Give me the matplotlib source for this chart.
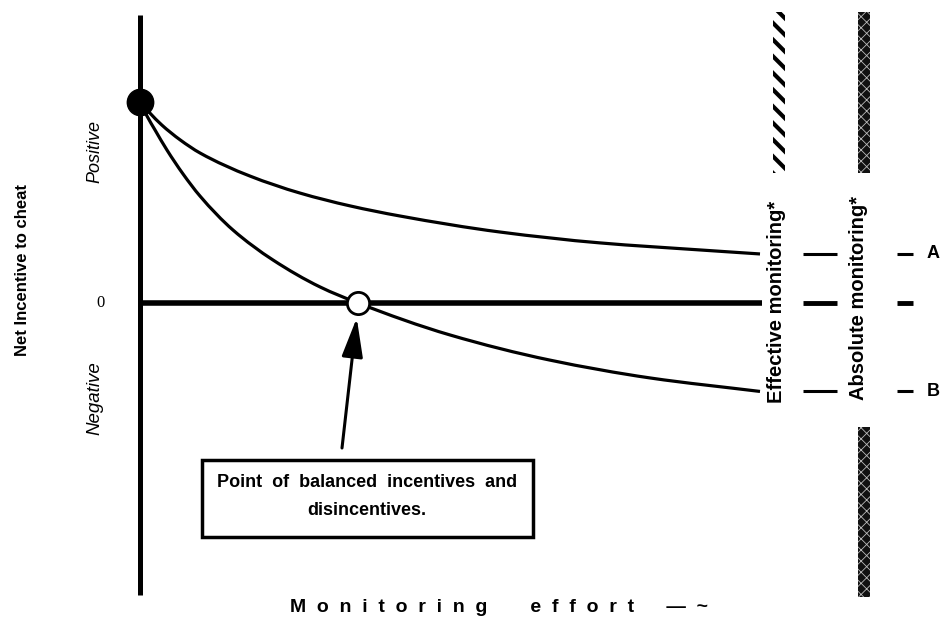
import matplotlib
matplotlib.use("Agg")
import numpy as np
import matplotlib.pyplot as plt
from matplotlib.patches import Rectangle, PathPatch
from matplotlib.path import Path

# values (effort 0..10, incentive: start = 1)
effort_a = [0, 0.16, 0.35, 0.65, 0.97, 1.77, 2.58, 3.39, 4.19, 5.81, 7.42, 9.03, 10]
incentive_a = [1.0, 0.945, 0.886, 0.811, 0.746, 0.632, 0.547, 0.483, 0.433, 0.353, 0.299, 0.264, 0.244]
effort_b = [0, 0.113, 0.242, 0.435, 0.694, 0.968, 1.5, 2.145, 2.903, 3.516, 5.0, 6.61, 8.23, 10]
incentive_b = [1.0, 0.930, 0.861, 0.761, 0.642, 0.532, 0.363, 0.214, 0.080, 0, -0.159, -0.284, -0.373, -0.44]
balance_effort = 3.516
curve_labels = ["A", "B"]
y_labels = ["Positive", "0", "Negative"]
box_text = ["Point  of  balanced  incentives  and", "disincentives."]


def px(x):
    # picture pixel column -> effort units
    return (x - 140) / 62.0


def py(y):
    # picture pixel row -> incentive units
    return (303 - y) / 201.0


def smooth_path(xs, ys):
    # monotone cubic (Fritsch-Carlson) through the read points, as bezier segments
    x = np.asarray(xs, float)
    y = np.asarray(ys, float)
    h = np.diff(x)
    d = np.diff(y) / h
    m = np.zeros_like(x)
    m[0], m[-1] = d[0], d[-1]
    for i in range(1, len(x) - 1):
        if d[i - 1] * d[i] <= 0:
            m[i] = 0
        else:
            w1 = 2 * h[i] + h[i - 1]
            w2 = h[i] + 2 * h[i - 1]
            m[i] = (w1 + w2) / (w1 / d[i - 1] + w2 / d[i])
    verts = [(x[0], y[0])]
    codes = [Path.MOVETO]
    for i in range(len(x) - 1):
        verts += [(x[i] + h[i] / 3, y[i] + m[i] * h[i] / 3),
                  (x[i + 1] - h[i] / 3, y[i + 1] - m[i + 1] * h[i] / 3),
                  (x[i + 1], y[i + 1])]
        codes += [Path.CURVE4] * 3
    return Path(verts, codes)


plt.rcParams['font.family'] = ['Liberation Sans', 'DejaVu Sans']
plt.rcParams['hatch.linewidth'] = 3.0

fig = plt.figure(figsize=(9.42, 6.23), dpi=100)
ax = fig.add_axes([0, 0, 1, 1])
ax.set_xlim(px(0), px(942))
ax.set_ylim(py(623), py(0))
ax.axis('off')

# axes
ax.plot([0, 0], [py(15), py(595)], color='k', lw=3.6, solid_capstyle='butt')
ax.plot([0, px(762)], [0, 0], color='k', lw=4, solid_capstyle='butt')

# curves
ax.add_patch(PathPatch(smooth_path(effort_a, incentive_a), fill=False, ec='k', lw=2.3))
ax.add_patch(PathPatch(smooth_path(effort_b, incentive_b), fill=False, ec='k', lw=2.3))
ax.plot(effort_a[0], incentive_a[0], 'o', color='k', ms=19)
ax.plot(balance_effort, 0, 'o', mfc='white', mec='k', mew=2, ms=16)

# arrow + box
ax.annotate('', xy=(balance_effort - 0.02, py(318)), xytext=(px(342), py(448)),
            arrowprops=dict(arrowstyle='-|>,head_length=2.4,head_width=0.65',
                            lw=2.2, color='k', mutation_scale=10,
                            shrinkA=0, shrinkB=0))
ax.add_patch(Rectangle((px(202), py(537)), (533 - 202) / 62.0, (537 - 460) / 201.0,
                       fill=False, lw=2.5, ec='k'))
ax.text(px(367), py(482), box_text[0], ha='center', va='center',
        fontsize=13, fontweight='bold')
ax.text(px(367), py(510), box_text[1], ha='center', va='center',
        fontsize=13, fontweight='bold')

# y labels
ax.text(px(22), py(270), "Net Incentive to cheat", rotation=90, ha='center', va='center',
        fontsize=12, fontweight='bold')
ax.text(px(95), py(151), y_labels[0], rotation=90, ha='center', va='center',
        fontsize=13, style='italic')
ax.text(px(100), 0, y_labels[1], ha='center', va='center', fontsize=12,
        family='Liberation Serif')
ax.text(px(95), py(398), y_labels[2], rotation=90, ha='center', va='center',
        fontsize=13.5, style='italic')

# x label
xlab = "  ".join("Monitoring") + "        " + "  ".join("effort") + "      —  ~"
ax.text(px(290), py(607), xlab, ha='left', va='center', fontsize=14, fontweight='bold')

# right-hand monitoring markers
ax.add_patch(Rectangle((px(773), py(173)), 12 / 62.0, (173 - 12) / 201.0,
                       facecolor='white', edgecolor='k', lw=0, hatch='\\\\'))
for y0, y1 in [(12, 173), (427, 597)]:
    ax.add_patch(Rectangle((px(858), py(y1)), 12 / 62.0, (y1 - y0) / 201.0,
                           facecolor='#111111', edgecolor='k', lw=0))
    speck = Rectangle((px(858), py(y1)), 12 / 62.0, (y1 - y0) / 201.0,
                      facecolor='none', edgecolor='#bbbbbb', lw=0, hatch='xxx')
    if hasattr(speck, 'set_hatch_linewidth'):
        speck.set_hatch_linewidth(0.6)
    ax.add_patch(speck)
ax.text(px(777), py(302), "Effective monitoring*", rotation=90, ha='center', va='center',
        fontsize=14.5, fontweight='bold')
ax.text(px(859), py(298), "Absolute monitoring*", rotation=90, ha='center', va='center',
        fontsize=14.5, fontweight='bold')

levels = [incentive_a[-1], 0, incentive_b[-1]]
widths = [2.2, 3.5, 2.2]
for lev, w in zip(levels, widths):
    ax.plot([px(803), px(837)], [lev, lev], color='k', lw=w, solid_capstyle='butt')
    ax.plot([px(897), px(913)], [lev, lev], color='k', lw=w, solid_capstyle='butt')
ax.text(px(927), incentive_a[-1], curve_labels[0], ha='left', va='center',
        fontsize=13, fontweight='bold')
ax.text(px(927), incentive_b[-1], curve_labels[1], ha='left', va='center',
        fontsize=13, fontweight='bold')

fig.savefig('out.png', dpi=100)
